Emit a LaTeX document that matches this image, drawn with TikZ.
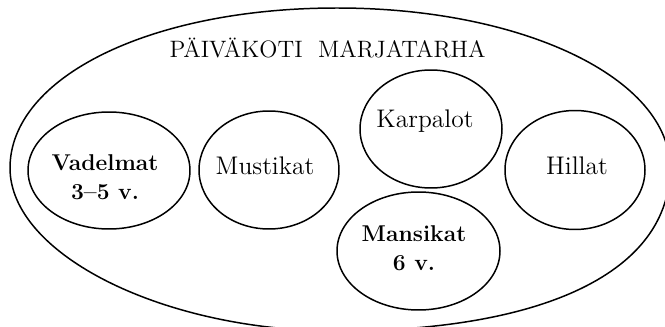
\documentclass[tikz,border=0pt]{standalone}
\usepackage{amsmath}
\usepackage{tikz}

\begin{document}
\begin{tikzpicture}[line width=0.85pt,
  ryhma/.style={font=\fontsize{14.5}{17}\selectfont, inner sep=0pt, anchor=base},
  isoryhma/.style={font=\fontsize{13}{14}\selectfont\bfseries, inner sep=0pt, align=center, anchor=base}]
\clip (0,0) rectangle (13.3,6.52);
% The big outline of the whole day care, cut by the page at right and bottom
\draw (0.20,3.16) .. controls (0.20,4.98) and (3.01,6.36) .. (6.74,6.36)
  .. controls (10.47,6.36) and (13.40,4.95) .. (13.40,3.16)
  .. controls (13.40,1.11) and (10.94,-0.10) .. (6.74,-0.10)
  .. controls (3.27,-0.10) and (0.20,1.43) .. cycle;
\node[font=\fontsize{13.5}{16}\selectfont, inner sep=0pt, anchor=base] (paivakoti) at (6.55,5.36) {PÄIVÄKOTI\ \ MARJATARHA};
\draw (2.18,3.11) ellipse [x radius=1.62, y radius=1.17];
\draw (5.38,3.12) ellipse [x radius=1.40, y radius=1.18];
\draw (8.62,3.94) ellipse [x radius=1.42, y radius=1.18];
\draw (11.50,3.12) ellipse [x radius=1.40, y radius=1.19];
\draw (8.37,1.50) ellipse [x radius=1.63, y radius=1.18];
\node[isoryhma] (vadelmat) at (2.10,2.52) {Vadelmat\\[0.1cm]3--5 v.};
\node[ryhma] (mustikat) at (5.30,3.02) {Mustikat};
\node[ryhma] (karpalot) at (8.50,3.96) {Karpalot};
\node[ryhma] (hillat) at (11.54,3.02) {Hillat};
\node[isoryhma] (mansikat) at (8.28,1.10) {Mansikat\\[0.1cm]6 v.};
\end{tikzpicture}
\end{document}
